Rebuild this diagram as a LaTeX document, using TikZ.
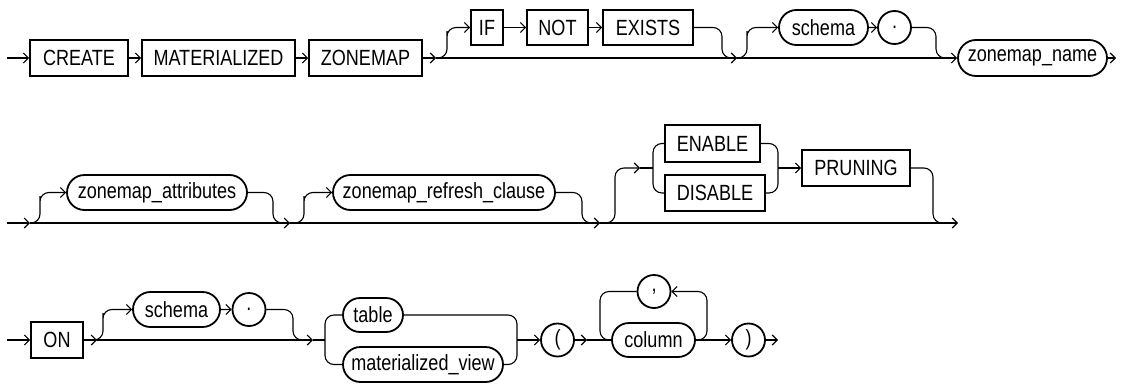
\documentclass[tikz,border=0pt]{standalone}
\usepackage{fontspec}
\setmainfont{Liberation Sans}[FakeStretch=0.82]
\usetikzlibrary{arrows.meta,shapes.misc}
\begin{document}
\begin{tikzpicture}[x=1pt,y=-1pt,
  font=\fontsize{22}{26}\selectfont,
  conn/.style={line width=1.1pt},
  arr/.style={conn,-{Straight Barb[length=5pt,width=10pt,line width=1.1pt]}},
  rc/.style={rounded corners=9pt},
  kw/.style={draw,line width=1.8pt,rectangle,minimum height=36pt,inner sep=0pt},
  nt/.style={draw,line width=1.8pt,rounded rectangle,minimum height=35pt,inner sep=0pt},
  sym/.style={draw,line width=1.8pt,circle,minimum size=33pt,inner sep=0pt}]
\useasboundingbox (0,0) rectangle (1121,383);
% ---------- row 1 ----------
\node[kw,minimum width=98pt] (create) at (79,58) {CREATE};
\node[kw,minimum width=153pt] (mat) at (218.5,58) {MATERIALIZED};
\node[kw,minimum width=113pt] (zonemap) at (365.5,58) {ZONEMAP};
\node[kw,minimum width=32pt,minimum height=35pt] (if) at (487,27.5) {IF};
\node[kw,minimum width=61pt,minimum height=35pt] (not) at (557.5,27.5) {NOT};
\node[kw,minimum width=90pt,minimum height=35pt] (exists) at (648,27.5) {EXISTS};
\node[nt,minimum width=89pt] (schemaA) at (823.5,27.5) {schema};
\node[sym] (dotA) at (894.5,27.5) {.};
\node[nt,minimum width=149pt,minimum height=36pt] (zname) at (1032.5,58) {zonemap\_name};
\coordinate (r1s) at (7,58);
\coordinate (j1) at (436,58);
\coordinate (j2) at (737,58);
\coordinate (r1e) at (1116,58);
\draw[arr] (r1s) -- (create);
\draw[arr] (create) -- (mat);
\draw[arr] (mat) -- (zonemap);
\draw[arr] (zonemap) -- (j1);
\draw[arr] (j1) -- (j2);
\draw[arr,rc] (j1) -| (447,40) |- (if.west);
\draw[arr] (if) -- (not);
\draw[arr] (not) -- (exists);
\draw[conn,rc] (exists.east) -| (722,58) -- (j2);
\draw[arr] (j2) -- (zname.west);
\draw[arr,rc] (j2) -| (747,40) |- (schemaA.west);
\draw[arr] (schemaA) -- (dotA);
\draw[conn,rc] (dotA.east) -| (936,58) -- (948,58);
\draw[arr] (zname.east) -- (r1e);
% ---------- row 2 ----------
\node[nt,minimum width=180pt] (zattr) at (157,192.5) {zonemap\_attributes};
\node[nt,minimum width=222pt] (zref) at (444,192.5) {zonemap\_refresh\_clause};
\node[kw,minimum width=95pt,minimum height=37pt] (enable) at (712.5,143.5) {ENABLE};
\node[kw,minimum width=100pt] (disable) at (715,193) {DISABLE};
\node[kw,minimum width=108pt] (pruning) at (856,168) {PRUNING};
\coordinate (r2s) at (7,223);
\coordinate (j3) at (30,223);
\coordinate (j4) at (290,223);
\coordinate (j5) at (600,223);
\coordinate (jE) at (640,168);
\coordinate (jS) at (653,168);
\coordinate (jM) at (778,168);
\coordinate (r2e) at (958,223);
\draw[arr] (r2s) -- (j3);
\draw[arr] (j3) -- (j4);
\draw[arr] (j4) -- (j5);
\draw[arr] (j5) -- (r2e);
\draw[arr,rc] (j3) -| (40,205) |- (zattr.west);
\draw[conn,rc] (zattr.east) -| (273,223) -- (j4);
\draw[arr,rc] (j4) -| (304,205) |- (zref.west);
\draw[conn,rc] (zref.east) -| (582,223) -- (j5);
\draw[arr,rc] (j5) -| (615,190) |- (jE);
\draw[conn] (jE) -- (jS);
\draw[conn,rc] (enable.west) -| (jS) |- (disable.west);
\draw[conn,rc] (enable.east) -| (jM) |- (disable.east);
\draw[arr] (jM) -- (pruning.west);
\draw[conn,rc] (pruning.east) -| (933,223) -- (945,223);
% ---------- row 3 ----------
\node[kw,minimum width=52pt] (on) at (57,340) {ON};
\node[nt,minimum width=87pt] (schemaB) at (176.5,309.5) {schema};
\node[sym] (dotB) at (249,309.5) {.};
\node[nt,minimum width=60pt,minimum height=34pt] (table) at (373,315) {table};
\node[nt,minimum width=160pt] (mview) at (423,364.5) {materialized\_view};
\node[sym] (lpar) at (557.5,340) {(};
\node[nt,minimum width=83pt,minimum height=34pt] (column) at (653.5,340) {column};
\node[sym] (comma) at (654,291.5) {,};
\node[sym] (rpar) at (748.5,340) {)};
\coordinate (r3s) at (7,340);
\coordinate (j6) at (97,340);
\coordinate (j7) at (313,340);
\coordinate (jT) at (325,340);
\coordinate (jU) at (517,340);
\coordinate (j8) at (587,340);
\coordinate (r3e) at (778,340);
\draw[arr] (r3s) -- (on);
\draw[arr] (on) -- (j6);
\draw[arr] (j6) -- (j7);
\draw[arr,rc] (j6) -| (103,322) |- (schemaB.west);
\draw[arr] (schemaB) -- (dotB);
\draw[conn,rc] (dotB.east) -| (293,340) -- (302,340);
\draw[conn] (j7) -- (jT);
\draw[conn,rc] (table.west) -| (jT) |- (mview.west);
\draw[conn,rc] (table.east) -| (jU) |- (mview.east);
\draw[arr] (jU) -- (lpar.west);
\draw[arr] (lpar.east) -- (j8);
\draw[conn] (j8) -- (column.west);
\draw[arr,rc] (column.east) -| (707,291.5) -- (comma.east);
\draw[conn,rc] (comma.west) -| (600,340) -- (column.west);
\draw[arr] (column.east) -- (rpar.west);
\draw[arr] (rpar.east) -- (r3e);
\end{tikzpicture}
\end{document}
